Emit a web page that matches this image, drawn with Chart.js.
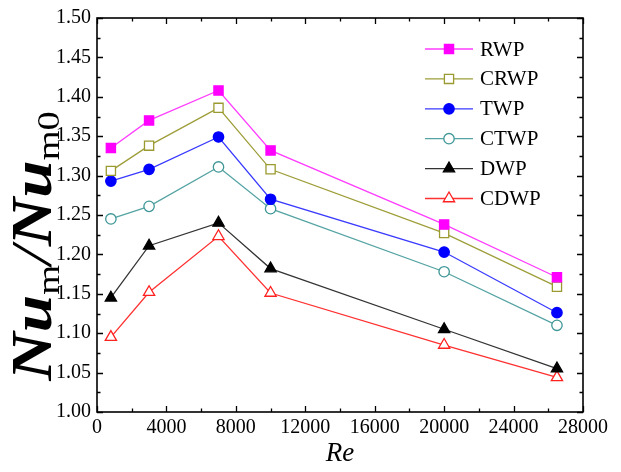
<!DOCTYPE html>
<html>
<head>
<meta charset="utf-8">
<script src="https://cdn.jsdelivr.net/npm/chart.js@4"></script>
<style>
  body { margin: 0; background: #fff; }
  #wrap { width: 621px; height: 472px; position: relative; }
</style>
</head>
<body>
<div id="wrap"><canvas id="myChart"></canvas></div>
<script>
const reValues = [800, 3000, 7000, 10000, 20000, 26500];
const seriesNames = ['RWP', 'CRWP', 'TWP', 'CTWP', 'DWP', 'CDWP'];
const rwp  = [1.335, 1.370, 1.408, 1.332, 1.238, 1.171];
const crwp = [1.306, 1.338, 1.386, 1.308, 1.227, 1.159];
const twp  = [1.293, 1.308, 1.349, 1.270, 1.203, 1.126];
const ctwp = [1.245, 1.261, 1.311, 1.258, 1.178, 1.110];
const dwp  = [1.145, 1.211, 1.240, 1.182, 1.105, 1.055];
const cdwp = [1.095, 1.152, 1.223, 1.151, 1.085, 1.044];
const xTicks = [0, 4000, 8000, 12000, 16000, 20000, 24000, 28000];
const yTicks = [1.00, 1.05, 1.10, 1.15, 1.20, 1.25, 1.30, 1.35, 1.40, 1.45, 1.50];

const serif = "'Liberation Serif', 'Times New Roman', serif";

const styles = [
  { line: '#ff3dff', point: '#ff00ff', fill: '#ff00ff', shape: 'rect', r: 6.5 },
  { line: '#9e9e3a', point: '#9a9a30', fill: '#ffffff', shape: 'rect', r: 6.5 },
  { line: '#3a3aff', point: '#0000ff', fill: '#0000ff', shape: 'circle', r: 5.2 },
  { line: '#55a3a3', point: '#3f9696', fill: '#ffffff', shape: 'circle', r: 5.2 },
  { line: '#333333', point: '#000000', fill: '#000000', shape: 'triangle', r: 6.5 },
  { line: '#ff3030', point: '#ff2020', fill: '#ffffff', shape: 'triangle', r: 6.5 },
];
const values = [rwp, crwp, twp, ctwp, dwp, cdwp];

const datasets = seriesNames.map((name, i) => ({
  label: name,
  data: reValues.map((x, j) => ({ x: x, y: values[i][j] })),
  borderColor: styles[i].line,
  borderWidth: 1.3,
  pointStyle: styles[i].shape,
  pointRadius: styles[i].r,
  pointHoverRadius: styles[i].r,
  pointBackgroundColor: styles[i].fill,
  pointBorderColor: styles[i].point,
  pointBorderWidth: 1.3,
  tension: 0,
}));

// frame with inward major/minor ticks on all four sides
const frame = {
  id: 'frame',
  afterDatasetsDraw(chart) {
    const { ctx, chartArea: a, scales: { x, y } } = chart;
    ctx.save();
    ctx.strokeStyle = '#000';
    ctx.lineWidth = 1.6;
    ctx.strokeRect(a.left, a.top, a.right - a.left, a.bottom - a.top);
    ctx.lineWidth = 1.3;
    ctx.beginPath();
    for (let v = 0; v <= 28000; v += 2000) {
      const px = Math.round(x.getPixelForValue(v)) + 0.5;
      const len = v % 4000 === 0 ? 6 : 3.5;
      ctx.moveTo(px, a.bottom); ctx.lineTo(px, a.bottom - len);
      ctx.moveTo(px, a.top); ctx.lineTo(px, a.top + len);
    }
    for (let k = 0; k <= 20; k++) {
      const py = Math.round(y.getPixelForValue(1 + k * 0.025)) + 0.5;
      const len = k % 2 === 0 ? 6 : 3.5;
      ctx.moveTo(a.left, py); ctx.lineTo(a.left + len, py);
      ctx.moveTo(a.right, py); ctx.lineTo(a.right - len, py);
    }
    ctx.stroke();
    ctx.restore();
  },
  afterDraw(chart) {
    const { ctx, chartArea: a } = chart;
    ctx.save();
    // legend
    chart.data.datasets.forEach((ds, i) => {
      const yy = a.top + 31 + i * 29.9;
      const x0 = a.right - 158;
      ctx.strokeStyle = ds.borderColor;
      ctx.lineWidth = 1.3;
      ctx.beginPath();
      ctx.moveTo(x0, yy); ctx.lineTo(x0 + 48, yy);
      ctx.stroke();
      ctx.fillStyle = ds.pointBackgroundColor;
      ctx.strokeStyle = ds.pointBorderColor;
      Chart.helpers.drawPoint(ctx, {
        pointStyle: ds.pointStyle, radius: ds.pointRadius, rotation: 0, borderWidth: 1.3
      }, x0 + 24, yy);
      ctx.fillStyle = '#000';
      ctx.font = '21px ' + serif;
      ctx.textBaseline = 'middle';
      ctx.textAlign = 'left';
      ctx.fillText(ds.label, x0 + 55, yy + 1);
    });

    // x title
    ctx.fillStyle = '#000';
    ctx.font = 'italic 27px ' + serif;
    ctx.textAlign = 'center';
    ctx.textBaseline = 'alphabetic';
    ctx.fillText('Re', (a.left + a.right) / 2, 461);

    // y title: Nu_m / Nu_m0
    const parts = [
      { t: 'Nu', f: 'bold italic 56px ' + serif, dy: 0 },
      { t: 'm', f: '32px ' + serif, dy: 8 },
      { t: '/', f: 'italic 56px ' + serif, dy: 0 },
      { t: 'Nu', f: 'bold italic 56px ' + serif, dy: 0 },
      { t: 'm0', f: '32px ' + serif, dy: 8 },
    ];
    let total = 0;
    parts.forEach(p => { ctx.font = p.f; p.w = ctx.measureText(p.t).width; total += p.w; });
    ctx.translate(51, 246);
    ctx.rotate(-Math.PI / 2);
    ctx.scale(1.2, 1);
    ctx.textAlign = 'left';
    let cx = -total / 2;
    parts.forEach(p => {
      ctx.font = p.f;
      ctx.fillText(p.t, cx, p.dy);
      cx += p.w;
    });
    ctx.restore();
  }
};

const ctx = document.getElementById('myChart').getContext('2d');
new Chart(ctx, {
  type: 'line',
  data: { datasets: datasets },
  options: {
    responsive: true,
    maintainAspectRatio: false,
    animation: false,
    layout: { padding: { left: 0, right: 38, top: 16, bottom: 0 } },
    plugins: { legend: { display: false }, tooltip: { enabled: false } },
    scales: {
      x: {
        type: 'linear',
        min: 0,
        max: 28000,
        afterFit(scale) { scale.height = 60; },
        afterBuildTicks(scale) { scale.ticks = xTicks.map(v => ({ value: v })); },
        ticks: {
          color: '#000',
          padding: 4,
          maxRotation: 0,
          font: { family: serif, size: 20 },
          callback: v => String(v),
        },
        grid: { display: false, drawTicks: false },
        border: { display: false },
      },
      y: {
        min: 1,
        max: 1.5,
        afterFit(scale) { scale.width = 97; },
        afterBuildTicks(scale) { scale.ticks = yTicks.map(v => ({ value: v })); },
        ticks: {
          color: '#000',
          padding: 6,
          font: { family: serif, size: 20 },
          callback: v => Number(v).toFixed(2),
        },
        grid: { display: false, drawTicks: false },
        border: { display: false },
      }
    }
  },
  plugins: [frame]
});
</script>
</body>
</html>
